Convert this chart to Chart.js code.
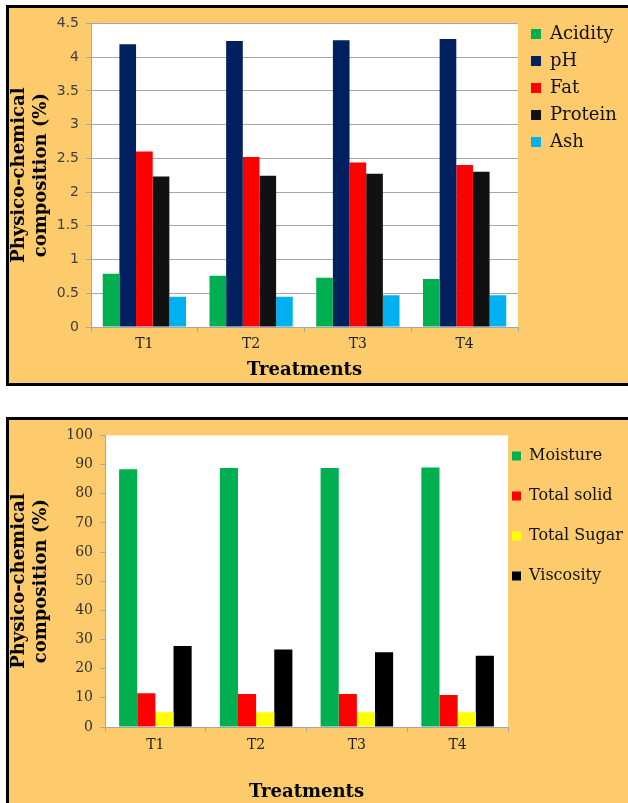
<!DOCTYPE html>
<html>
<head>
<meta charset="utf-8">
<script src="https://cdn.jsdelivr.net/npm/chart.js@4.4.0/dist/chart.umd.min.js"></script>
<style>
    html, body { margin: 0; padding: 0; background: #fff; overflow: hidden; }
    .box { position: absolute; left: 6px; width: 619px; background: #FDCB6B; border: 3px solid #000; border-right: none; }
    #box1 { top: 5px; height: 375px; }
    #box2 { top: 417px; height: 383px; border-bottom: none; }
    canvas { display: block; }
</style>
</head>
<body>
<div class="box" id="box1"><canvas id="top-chart" width="619" height="375"></canvas></div>
<div class="box" id="box2"><canvas id="bottom-chart" width="619" height="383"></canvas></div>
<script>
let treatments = ['T1', 'T2', 'T3', 'T4'];

// top chart
let acidity = [0.79, 0.76, 0.73, 0.71];
let pH = [4.19, 4.24, 4.25, 4.27];
let fat = [2.60, 2.52, 2.44, 2.40];
let protein = [2.23, 2.24, 2.27, 2.30];
let ash = [0.45, 0.45, 0.47, 0.47];

// bottom chart
let moisture = [88.4, 88.8, 88.8, 89.0];
let totalSolid = [11.6, 11.3, 11.3, 11.0];
let totalSugar = [5.1, 5.1, 5.1, 5.1];
let viscosity = [27.8, 26.6, 25.6, 24.4];

const serif = 'DejaVu Serif';
const gridGray = '#A6A6A6';

// white plot area + put legend where the original has it
const plotBg = {
    id: 'plotBg',
    beforeDraw(chart, args, opts) {
        const {ctx, chartArea} = chart;
        ctx.save();
        ctx.fillStyle = '#fff';
        ctx.fillRect(chartArea.left, chartArea.top, chartArea.right - chartArea.left, chartArea.bottom - chartArea.top);
        ctx.restore();
        const lg = chart.legend;
        if (lg && opts.legendX !== undefined) {
            const w = lg.right - lg.left;
            const h = lg.bottom - lg.top;
            lg.left = opts.legendX;
            lg.right = lg.left + w;
            lg.top = opts.legendY;
            lg.bottom = lg.top + h;
        }
    }
};

function yTitle() {
    return {
        display: true,
        text: ['Physico-chemical', 'composition (%)'],
        font: {family: serif, size: 18, weight: 'bold', lineHeight: 1.2},
        color: '#000',
        padding: {top: 0, bottom: 0},
    };
}

function xTitle() {
    return {
        display: true,
        text: 'Treatments',
        font: {family: serif, size: 18, weight: 'bold', lineHeight: 1.2},
        color: '#000',
        padding: {top: 0, bottom: 0},
    };
}

function topGraph() {
    const ctx = document.getElementById('top-chart').getContext('2d');
    const data = {
        labels: treatments,
        datasets: [
            {label: 'Acidity', data: acidity, backgroundColor: '#00B050'},
            {label: 'pH', data: pH, backgroundColor: '#002060'},
            {label: 'Fat', data: fat, backgroundColor: '#FF0000'},
            {label: 'Protein', data: protein, backgroundColor: '#111111'},
            {label: 'Ash', data: ash, backgroundColor: '#00B0F0'},
        ]
    };
    data.datasets.forEach(d => {
        d.borderWidth = 0;
        d.categoryPercentage = 0.78;
        d.barPercentage = 1.0;
    });
    new Chart(ctx, {
        type: 'bar',
        data: data,
        plugins: [plotBg],
        options: {
            responsive: false,
            animation: false,
            layout: {padding: {top: 10, left: 0, right: 110, bottom: 2}},
            scales: {
                x: {
                    grid: {drawOnChartArea: false, color: gridGray, tickLength: 5},
                    border: {color: gridGray},
                    ticks: {font: {family: serif, size: 14}, color: '#222', padding: 4, maxRotation: 0},
                    title: xTitle(),
                    afterFit: (scale) => { scale.height = 54; },
                },
                y: {
                    min: 0,
                    max: 4.5,
                    grid: {color: gridGray, tickLength: 5},
                    border: {color: gridGray},
                    ticks: {
                        stepSize: 0.5,
                        font: {family: 'DejaVu Sans', size: 14},
                        color: '#404040',
                        padding: 7,
                        callback: (value) => String(value),
                    },
                    title: yTitle(),
                    afterFit: (scale) => { scale.width = 82; },
                },
            },
            plugins: {
                plotBg: {legendX: 513, legendY: 8},
                legend: {
                    position: 'chartArea',
                    align: 'start',
                    labels: {boxWidth: 10, boxHeight: 10, padding: 9, font: {family: serif, size: 18}, color: '#111'},
                },
                tooltip: {enabled: false},
            },
        },
    });
}

function bottomGraph() {
    const ctx = document.getElementById('bottom-chart').getContext('2d');
    const data = {
        labels: treatments,
        datasets: [
            {label: 'Moisture', data: moisture, backgroundColor: '#00B050'},
            {label: 'Total solid', data: totalSolid, backgroundColor: '#FF0000'},
            {label: 'Total Sugar', data: totalSugar, backgroundColor: '#FFFF00'},
            {label: 'Viscosity', data: viscosity, backgroundColor: '#000000'},
        ]
    };
    data.datasets.forEach(d => {
        d.borderWidth = 0;
        d.categoryPercentage = 0.72;
        d.barPercentage = 1.0;
    });
    new Chart(ctx, {
        type: 'bar',
        data: data,
        plugins: [plotBg],
        options: {
            responsive: false,
            animation: false,
            layout: {padding: {top: 10, left: 0, right: 120, bottom: 0}},
            scales: {
                x: {
                    grid: {drawOnChartArea: false, color: gridGray, tickLength: 5},
                    border: {color: gridGray},
                    ticks: {font: {family: serif, size: 14}, color: '#222', padding: 5, maxRotation: 0},
                    title: xTitle(),
                    afterFit: (scale) => { scale.height = 76; },
                },
                y: {
                    min: 0,
                    max: 100,
                    grid: {drawOnChartArea: false, color: gridGray, tickLength: 5},
                    border: {color: gridGray},
                    ticks: {stepSize: 10, font: {family: serif, size: 14}, color: '#333', padding: 7},
                    title: yTitle(),
                    afterFit: (scale) => { scale.width = 96; },
                },
            },
            plugins: {
                plotBg: {legendX: 479, legendY: 4},
                legend: {
                    position: 'chartArea',
                    align: 'start',
                    labels: {boxWidth: 9, boxHeight: 9, padding: 24, font: {family: serif, size: 16}, color: '#111'},
                },
                tooltip: {enabled: false},
            },
        },
    });
}

topGraph();
bottomGraph();
</script>
</body>
</html>
